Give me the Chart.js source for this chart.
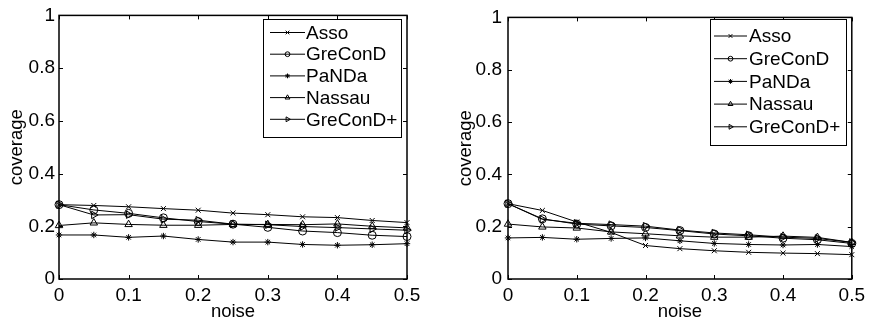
<!DOCTYPE html>
<html><head><meta charset="utf-8">
<script src="https://cdn.jsdelivr.net/npm/chart.js@4.4.0/dist/chart.umd.min.js"></script>
<style>
html,body{margin:0;padding:0;background:#fff;}
#wrap{position:relative;width:870px;height:322px;overflow:hidden;}
.c{position:absolute;top:0;width:435px;height:322px;}
</style></head><body>
<div id="wrap">
<div class="c" style="left:0"><canvas id="c1" width="435" height="322"></canvas></div>
<div class="c" style="left:435px"><canvas id="c2" width="435" height="322"></canvas></div>
</div>
<script>
// ---- data ----
const noise = [0, 0.05, 0.1, 0.15, 0.2, 0.25, 0.3, 0.35, 0.4, 0.45, 0.5];
const seriesNames = ['Asso', 'GreConD', 'PaNDa', 'Nassau', 'GreConD+'];
const xTickValues = [0, 0.1, 0.2, 0.3, 0.4, 0.5];
const xTickLabels = ['0', '0.1', '0.2', '0.3', '0.4', '0.5'];
const yTickValues = [0, 0.2, 0.4, 0.6, 0.8, 1];
const yTickLabels = ['0', '0.2', '0.4', '0.6', '0.8', '1'];
const xTitle = 'noise';
const yTitle = 'coverage';

// left panel
const leftAsso     = [0.282, 0.279, 0.274, 0.267, 0.261, 0.250, 0.244, 0.236, 0.233, 0.222, 0.214];
const leftGreConD  = [0.282, 0.262, 0.249, 0.232, 0.218, 0.208, 0.196, 0.182, 0.176, 0.166, 0.161];
const leftPaNDa    = [0.167, 0.167, 0.158, 0.163, 0.150, 0.140, 0.140, 0.131, 0.128, 0.130, 0.134];
const leftNassau   = [0.203, 0.213, 0.207, 0.204, 0.204, 0.207, 0.207, 0.206, 0.209, 0.200, 0.194];
const leftGreConDp = [0.282, 0.243, 0.244, 0.227, 0.223, 0.208, 0.206, 0.199, 0.195, 0.190, 0.185];

// right panel
const rightAsso     = [0.288, 0.262, 0.218, 0.178, 0.128, 0.116, 0.108, 0.102, 0.099, 0.097, 0.093];
const rightGreConD  = [0.288, 0.230, 0.210, 0.203, 0.197, 0.185, 0.172, 0.165, 0.156, 0.150, 0.136];
const rightPaNDa    = [0.157, 0.159, 0.152, 0.155, 0.157, 0.146, 0.136, 0.132, 0.130, 0.132, 0.124];
const rightNassau   = [0.210, 0.199, 0.195, 0.180, 0.173, 0.165, 0.160, 0.160, 0.164, 0.159, 0.140];
const rightGreConDp = [0.288, 0.228, 0.213, 0.208, 0.202, 0.187, 0.176, 0.169, 0.160, 0.155, 0.140];

// ---- styles ----
const markerStyles = ['crossRot', 'circle', 'star', 'triangle', 'triangle'];
const markerRot = [0, 0, 0, 0, 90];
const markerRadius = [3.5, 4, 3.2, 4.3, 4.3];
const legendRadius = [2.6, 2.4, 2.4, 2.8, 2.8];
const FONT = "'Liberation Sans', Arial, Helvetica, sans-serif";

const framePlugin = {
  id: 'matlabFrame',
  afterDatasetsDraw(chart) {
    const ctx = chart.ctx, a = chart.chartArea;
    const xs = chart.scales.x, ys = chart.scales.y;
    ctx.save();
    ctx.strokeStyle = '#000';
    ctx.lineWidth = 1;
    const tl = 4;
    ctx.beginPath();
    xTickValues.forEach(v => {
      const px = Math.round(xs.getPixelForValue(v)) + 0.5;
      ctx.moveTo(px, a.bottom); ctx.lineTo(px, a.bottom - tl);
      ctx.moveTo(px, a.top); ctx.lineTo(px, a.top + tl);
    });
    yTickValues.forEach(v => {
      const py = Math.round(ys.getPixelForValue(v)) + 0.5;
      ctx.moveTo(a.left, py); ctx.lineTo(a.left + tl, py);
      ctx.moveTo(a.right, py); ctx.lineTo(a.right - tl, py);
    });
    ctx.stroke();
    ctx.lineWidth = 1.5;
    ctx.strokeRect(a.left, a.top, a.right - a.left, a.bottom - a.top);
    ctx.restore();
  }
};

const legendPlugin = {
  id: 'boxLegend',
  afterDraw(chart, args, o) {
    const ctx = chart.ctx, a = chart.chartArea;
    const x0 = Math.round(a.right - o.fromRight), y0 = Math.round(a.top + o.top);
    ctx.save();
    ctx.fillStyle = '#fff';
    ctx.fillRect(x0, y0, o.width, o.height);
    ctx.strokeStyle = '#000';
    ctx.lineWidth = 1;
    ctx.strokeRect(x0 + 0.5, y0 + 0.5, o.width, o.height);
    chart.data.datasets.forEach((ds, i) => {
      const cy = y0 + o.first + i * o.gap;
      ctx.strokeStyle = '#000';
      ctx.lineWidth = 1;
      ctx.beginPath();
      ctx.moveTo(x0 + o.lineFrom, cy); ctx.lineTo(x0 + o.lineTo, cy);
      ctx.stroke();
      ctx.fillStyle = 'rgba(0,0,0,0)';
      Chart.helpers.drawPoint(ctx, {pointStyle: ds.pointStyle, rotation: ds.pointRotation, radius: legendRadius[i], borderWidth: 1}, x0 + (o.lineFrom + o.lineTo) / 2, cy);
      ctx.fillStyle = '#000';
      ctx.font = '19px ' + FONT;
      ctx.textBaseline = 'middle';
      ctx.textAlign = 'left';
      ctx.fillText(ds.label, x0 + o.textX, cy + 1);
    });
    ctx.restore();
  }
};

function makeChart(id, arrays, cfg) {
  const datasets = seriesNames.map((name, i) => ({
    label: name,
    data: noise.map((x, j) => ({x: x, y: arrays[i][j]})),
    borderColor: '#000',
    borderWidth: 1,
    pointStyle: markerStyles[i],
    pointRotation: markerRot[i],
    pointRadius: markerRadius[i],
    pointHoverRadius: markerRadius[i],
    pointBorderWidth: 1,
    pointBorderColor: '#000',
    pointBackgroundColor: 'rgba(0,0,0,0)',
    tension: 0,
    fill: false,
    clip: false
  }));
  return new Chart(document.getElementById(id), {
    type: 'line',
    data: {datasets},
    plugins: [framePlugin, legendPlugin],
    options: {
      responsive: false,
      animation: false,
      devicePixelRatio: 1,
      layout: {padding: {left: cfg.padLeft, right: cfg.padRight, top: cfg.padTop, bottom: 0}},
      plugins: {
        legend: {display: false},
        tooltip: {enabled: false},
        boxLegend: cfg.legend
      },
      scales: {
        x: {
          type: 'linear', min: 0, max: 0.5,
          afterBuildTicks: s => { s.ticks = xTickValues.map(v => ({value: v})); },
          afterFit: s => { s.height = 322 - cfg.padTop - cfg.plotH; },
          grid: {display: false, drawTicks: false},
          border: {display: false},
          ticks: {color: '#000', font: {family: FONT, size: 19}, padding: 5, maxRotation: 0, autoSkip: false,
                  callback: (v, i) => xTickLabels[i]},
          title: {display: true, text: xTitle, color: '#000', font: {family: FONT, size: 18.5}, padding: {top: 0, bottom: -1}}
        },
        y: {
          type: 'linear', min: 0, max: 1,
          afterBuildTicks: s => { s.ticks = yTickValues.map(v => ({value: v})); },
          afterFit: s => { s.width = 59; },
          grid: {display: false, drawTicks: false},
          border: {display: false},
          ticks: {color: '#000', font: {family: FONT, size: 19}, padding: cfg.yPad, autoSkip: false,
                  callback: (v, i) => yTickLabels[i]},
          title: {display: true, text: yTitle, color: '#000', font: {family: FONT, size: 18.5}, padding: {top: 6, bottom: 0}}
        }
      }
    }
  });
}

makeChart('c1', [leftAsso, leftGreConD, leftPaNDa, leftNassau, leftGreConDp],
  {padLeft: 0, padRight: 28, padTop: 14, plotH: 265, yPad: 4,
   legend: {fromRight: 144, top: 4, width: 138, height: 118, first: 13.5, gap: 21.7, lineFrom: 7, lineTo: 42, textX: 43}});
makeChart('c2', [rightAsso, rightGreConD, rightPaNDa, rightNassau, rightGreConDp],
  {padLeft: 14, padRight: 15, padTop: 14, plotH: 265, yPad: 6,
   legend: {fromRight: 142, top: 2, width: 136, height: 126, first: 17, gap: 22.7, lineFrom: 4, lineTo: 37, textX: 39}});
</script>
</body></html>
